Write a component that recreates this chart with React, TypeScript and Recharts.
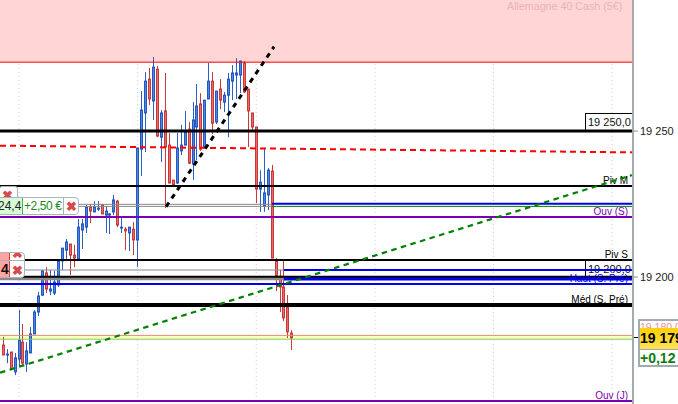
import React from 'react';
import { ComposedChart, Bar, XAxis, YAxis, CartesianGrid, ReferenceLine, ReferenceArea } from 'recharts';

const FONT = '"Liberation Sans", Arial, sans-serif';

const opens = [
  19176.7, 19173.3, 19174.3, 19167.5, 19171.9, 19177.7, 19170.2, 19174.0, 19180.5, 19188.0,
  19193.8, 19201.4, 19195.2, 19194.5, 19197.3, 19205.5, 19209.2, 19211.3, 19207.5, 19206.2,
  19216.1, 19217.1, 19224.0, 19222.3, 19223.3, 19224.7, 19221.2, 19221.2, 19222.3, 19226.0,
  19216.8, 19216.4, 19215.1, 19216.4, 19212.7, 19243.8, 19256.2, 19267.8, 19260.3, 19271.2,
  19247.9, 19256.9, 19245.2, 19233.2, 19232.2, 19243.2, 19245.2, 19250.7, 19238.7, 19251.4,
  19259.3, 19244.5, 19261.0, 19267.1, 19253.1, 19264.4, 19259.9, 19262.3, 19267.1, 19269.2,
  19269.2, 19273.3, 19264.4, 19256.2, 19251.4, 19230.1, 19224.3, 19228.1, 19236.3, 19205.5,
  19200.3, 19196.6, 19189.7, 19180.8,
];
const closes = [
  19173.3, 19173.6, 19168.5, 19172.3, 19178.4, 19170.5, 19174.7, 19180.5, 19188.0, 19193.5,
  19202.1, 19195.9, 19195.9, 19198.3, 19205.5, 19209.9, 19212.0, 19207.5, 19206.5, 19217.1,
  19218.2, 19224.0, 19222.6, 19224.0, 19223.6, 19221.6, 19222.6, 19221.6, 19226.4, 19217.8,
  19217.1, 19215.8, 19217.1, 19212.7, 19244.2, 19257.2, 19267.1, 19261.0, 19271.9, 19248.3,
  19256.2, 19244.5, 19232.2, 19231.5, 19244.2, 19245.2, 19249.7, 19239.0, 19253.8, 19258.6,
  19243.8, 19260.6, 19267.1, 19252.7, 19263.7, 19260.6, 19262.3, 19267.8, 19269.9, 19269.9,
  19274.0, 19263.4, 19256.9, 19251.4, 19230.1, 19232.5, 19228.8, 19236.6, 19206.5, 19200.3,
  19196.6, 19186.0, 19181.2, 19179.1,
];
const highs = [
  19179.5, 19175.3, 19174.3, 19174.0, 19188.7, 19183.9, 19177.7, 19182.9, 19188.7, 19194.9,
  19202.4, 19203.4, 19202.4, 19202.1, 19205.8, 19209.9, 19213.0, 19211.3, 19211.0, 19219.9,
  19219.9, 19224.7, 19225.0, 19226.0, 19226.0, 19225.0, 19224.3, 19221.9, 19228.1, 19226.4,
  19220.2, 19217.1, 19217.1, 19218.8, 19244.2, 19263.7, 19270.2, 19271.6, 19275.4, 19272.3,
  19257.2, 19269.9, 19249.3, 19233.2, 19249.3, 19252.1, 19256.9, 19253.1, 19259.9, 19266.1,
  19263.0, 19260.6, 19273.3, 19270.2, 19263.7, 19267.8, 19263.4, 19269.9, 19272.6, 19275.0,
  19274.0, 19274.0, 19264.4, 19256.2, 19251.4, 19236.6, 19243.8, 19237.3, 19238.4, 19206.5,
  19202.4, 19205.8, 19193.8, 19181.8,
];
const lows = [
  19173.3, 19170.5, 19168.5, 19166.4, 19169.2, 19169.2, 19167.5, 19174.0, 19180.5, 19186.6,
  19193.5, 19194.5, 19193.8, 19193.8, 19196.6, 19202.4, 19206.2, 19200.7, 19203.4, 19206.2,
  19209.6, 19215.1, 19218.5, 19222.3, 19222.6, 19221.6, 19215.1, 19214.7, 19221.2, 19217.1,
  19215.1, 19209.2, 19208.9, 19207.5, 19203.4, 19234.6, 19242.8, 19258.9, 19253.8, 19247.9,
  19239.4, 19223.6, 19232.2, 19231.2, 19231.9, 19241.8, 19245.2, 19238.7, 19233.2, 19240.1,
  19243.2, 19244.2, 19261.0, 19249.0, 19252.4, 19257.5, 19256.5, 19247.9, 19260.6, 19261.0,
  19263.0, 19263.0, 19244.5, 19250.3, 19225.3, 19222.3, 19222.3, 19222.9, 19206.5, 19195.2,
  19188.0, 19184.9, 19179.1, 19175.0,
];

const gridSlots = [5, 35, 65, 95, 125, 155];
const priceTicks = [19200, 19250];
const X_START = 0.19;
const X_END = 160.28;
const Y_MIN = 19156.5;
const Y_MAX = 19294.9;
const PLOT_WIDTH = 633;

// full width levels
const levelPrices = [19273.6, 19250, 19231.2, 19220.6, 19205.8, 19200, 19197.6, 19190.4, 19180, 19178.7, 19157.5];
const levelColors = ['#ff0000', '#000000', '#000000', '#7a00b4', '#000000', '#000000', '#0000ee', '#000000', '#e88a70', '#7ed050', '#7a00b4'];
const levelWidths = [1, 3, 2, 2, 2, 2.5, 2, 4, 1, 1, 2];
const levelLabels = ['', '', 'Piv M', 'Ouv (S)', 'Piv S', '', 'Haut (S. Pré)', 'Méd (S. Pré)', '', '', 'Ouv (J)'];

// levels that change colour partway across
const stepPrices = [19224.9, 19224.2, 19202.4, 19199.3, 19225.1, 19224.2, 19202.4, 19199.3];
const stepFrom = [X_START, X_START, X_START, X_START, 69, 69, 72, 72];
const stepTo = [69, 69, 72, 72, X_END, X_END, X_END, X_END];
const stepColors = ['#8a8a8a', '#8a8a8a', '#8a8a8a', '#8a8a8a', '#0000ee', '#008000', '#0000ee', '#0000ee'];
const stepWidths = [1, 1, 1, 2.5, 2, 1, 2, 3];

const slots = opens.map((_, i) => i + 1);
const candles = slots.map((slot, i) => ({
  slot,
  open: opens[i],
  close: closes[i],
  high: highs[i],
  low: lows[i],
}));

const gridPoints = gridSlots.map(s => ((s - X_START) * PLOT_WIDTH) / (X_END - X_START));

const Candle = (props: any) => {
  const { x, y, width, height, payload } = props;
  const { open, close, high, low } = payload;
  const up = close >= open;
  const unit = height / (high - low || 1);
  const cx = Math.round(x + width / 2) + 0.5;
  const top = y + (high - Math.max(open, close)) * unit;
  const bodyH = Math.max(Math.abs(close - open) * unit, 1);
  return (
    <g>
      <line x1={cx} x2={cx} y1={y} y2={y + height} stroke={up ? '#2a5fc8' : '#c83a3a'} strokeWidth={1} />
      <rect
        x={cx - 1}
        y={top}
        width={2}
        height={bodyH}
        fill={up ? '#4c86e6' : '#ea6a6a'}
        stroke={up ? '#2458c0' : '#c83a3a'}
        strokeWidth={1}
      />
    </g>
  );
};

const LevelLabel = (props: any) => {
  const { viewBox, value, color } = props;
  return (
    <text
      x={viewBox.x + viewBox.width - 5}
      y={viewBox.y - 2}
      textAnchor="end"
      fontSize={10}
      fontFamily={FONT}
      fill={color}
    >
      {value}
    </text>
  );
};

const LevelBox = ({ top, text }: { top: number; text: string }) => (
  <div
    style={{
      position: 'absolute', left: 585, top, width: 48, height: 18, boxSizing: 'border-box',
      border: '1px solid #000', borderRight: 'none', background: '#fff', fontSize: 11, lineHeight: '17px',
      paddingLeft: 2, color: '#111', whiteSpace: 'nowrap',
    }}
  >
    {text}
  </div>
);

const Cross = ({ left, top }: { left: number; top: number }) => (
  <div style={{ position: 'absolute', left, top, color: '#d84a4a', fontSize: 13, fontWeight: 'bold', lineHeight: '13px' }}>✖</div>
);

const App = () => {
  return (
    <div style={{ position: 'absolute', left: 0, top: 0, width: 678, height: 404, overflow: 'hidden', background: '#fff', fontFamily: FONT }}>
      {/* these boxes sit under the level lines */}
      <LevelBox top={113} text="19 250,0" />
      <LevelBox top={260} text="19 200,0" />

      <div style={{ position: 'absolute', left: 0, top: 0 }}>
        <ComposedChart width={678} height={404} data={candles} margin={{ top: 0, right: 0, bottom: 0, left: 0 }}>
          <CartesianGrid horizontal={false} verticalPoints={gridPoints} stroke="#cfcfcf" strokeDasharray="1 3" />
          <XAxis type="number" dataKey="slot" domain={[X_START, X_END]} allowDataOverflow hide />
          <YAxis
            orientation="right"
            width={45}
            domain={[Y_MIN, Y_MAX]}
            ticks={priceTicks}
            allowDataOverflow
            tickSize={5}
            tickMargin={2}
            interval={0}
            tickFormatter={(v: number) => `${String(v).slice(0, 2)} ${String(v).slice(2)}`}
            tick={{ fontSize: 11, fill: '#222', fontFamily: FONT }}
            axisLine={{ stroke: '#a3abb0', strokeWidth: 2 }}
            tickLine={{ stroke: '#8a9298' }}
          />
          <ReferenceArea y1={19273.6} y2={Y_MAX} fill="#ffd5d5" fillOpacity={1} stroke="none" />
          <ReferenceArea y1={19178.7} y2={19180} fill="#ffffc4" fillOpacity={1} stroke="none" />
          <Bar dataKey={(d: any) => [d.low, d.high]} barSize={3} shape={<Candle />} isAnimationActive={false} />
          {levelPrices.map((price, i) => (
            <ReferenceLine
              key={price}
              y={price}
              stroke={levelColors[i]}
              strokeWidth={levelWidths[i]}
              label={levelLabels[i] ? <LevelLabel value={levelLabels[i]} color={levelColors[i]} /> : undefined}
            />
          ))}
          {stepPrices.map((price, i) => (
            <ReferenceLine
              key={`${price}-${i}`}
              segment={[{ x: stepFrom[i], y: price }, { x: stepTo[i], y: price }]}
              stroke={stepColors[i]}
              strokeWidth={stepWidths[i]}
            />
          ))}
          <ReferenceLine
            segment={[{ x: X_START, y: 19245 }, { x: X_END, y: 19242.7 }]}
            stroke="#ff0000"
            strokeWidth={2}
            strokeDasharray="6 4"
          />
          <ReferenceLine
            segment={[{ x: X_START, y: 19167.2 }, { x: 160, y: 19234.9 }]}
            stroke="#008000"
            strokeWidth={2.2}
            strokeDasharray="5.5 4.5"
          />
          <ReferenceLine
            segment={[{ x: 42.2, y: 19224.1 }, { x: 69.5, y: 19278.9 }]}
            stroke="#000000"
            strokeWidth={3}
            strokeDasharray="5 5"
          />
        </ComposedChart>
      </div>

      <div style={{ position: 'absolute', left: 507, top: 0, fontSize: 10.7, lineHeight: '13px', color: '#e9b4b4', whiteSpace: 'nowrap' }}>
        Allemagne 40 Cash (5€)
      </div>

      {/* position widgets, left side */}
      <div style={{ position: 'absolute', left: -1, top: 186, width: 17, height: 14, border: '1px solid #a9b5ba', borderRadius: 3, background: '#fff', overflow: 'hidden' }}>
        <Cross left={2} top={2} />
      </div>
      <div style={{ position: 'absolute', left: -4, top: 197, width: 83, height: 18, boxSizing: 'border-box', border: '1px solid #a9b5ba', borderRadius: 4, background: '#fff', overflow: 'hidden' }}>
        <div style={{ position: 'absolute', left: 0, top: -1, width: 26, height: 18, boxSizing: 'border-box', border: '1px solid #3fb83f', background: '#d8fbd8', fontSize: 12, lineHeight: '17px', textAlign: 'right', paddingRight: 2, color: '#222' }}>24,4</div>
        <div style={{ position: 'absolute', left: 27, top: 0, fontSize: 12, lineHeight: '16px', color: '#1a8a1a', letterSpacing: -0.4, whiteSpace: 'nowrap' }}>+2,50 €</div>
        <div style={{ position: 'absolute', left: 66, top: 0, width: 1, height: 18, background: '#a9b5ba' }} />
        <Cross left={69} top={2} />
      </div>

      <div style={{ position: 'absolute', left: -4, top: 252, width: 29, height: 26, boxSizing: 'border-box', border: '1px solid #a9b5ba', borderRadius: 4, background: '#fff', overflow: 'hidden' }}>
        <div style={{ position: 'absolute', left: 0, top: 0, width: 12, height: 26, background: '#ffa4a4', borderRight: '1px solid #e04040' }} />
        <div style={{ position: 'absolute', left: 0, top: 7, width: 27, height: 1, background: '#a9b5ba' }} />
        <div style={{ position: 'absolute', left: 4, top: 9, fontSize: 14, fontWeight: 'bold', lineHeight: '15px', color: '#111' }}>4</div>
        <Cross left={15} top={-6} />
        <Cross left={15} top={11} />
      </div>

      {/* current price tag */}
      <div style={{ position: 'absolute', left: 634, top: 337, width: 4, height: 1, background: '#000' }} />
      <div style={{ position: 'absolute', left: 638, top: 319, width: 50, height: 48, boxSizing: 'border-box', border: '2px solid #a3abb0', background: '#fff', overflow: 'hidden' }}>
        <div style={{ position: 'absolute', left: 0, top: 1, fontSize: 10.5, lineHeight: '11px', color: '#f09090', whiteSpace: 'nowrap' }}>19 180,0</div>
        <div style={{ position: 'absolute', left: 0, top: 7, width: 50, height: 21, background: 'linear-gradient(#ffcf00, #ffe25a)', fontSize: 14, fontWeight: 'bold', lineHeight: '21px', color: '#000', whiteSpace: 'nowrap' }}>19 179</div>
        <div style={{ position: 'absolute', left: 0, top: 28, width: 50, height: 1, background: '#a3abb0' }} />
        <div style={{ position: 'absolute', left: 0, top: 29, fontSize: 14, fontWeight: 'bold', lineHeight: '17px', color: '#0d7d0d', whiteSpace: 'nowrap' }}>+0,12</div>
      </div>
    </div>
  );
};

export default App;
